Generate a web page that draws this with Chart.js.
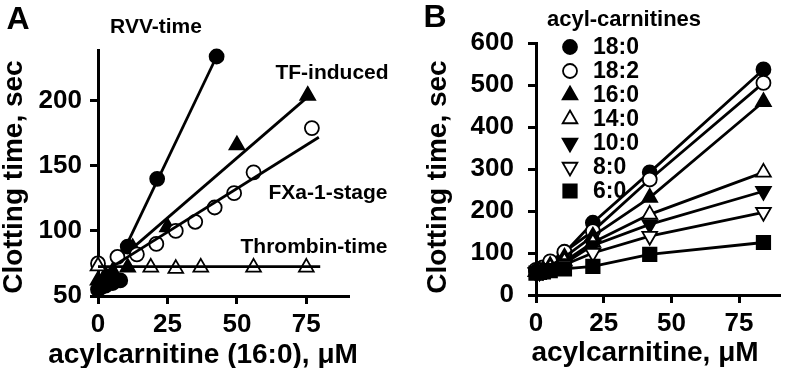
<!DOCTYPE html>
<html>
<head>
<meta charset="utf-8">
<script src="https://cdn.jsdelivr.net/npm/chart.js@4/dist/chart.umd.min.js"></script>
<style>
  html, body { margin: 0; padding: 0; background: #fff; }
  #wrap { position: relative; width: 791px; height: 368px; overflow: hidden; }
  canvas { position: absolute; top: 0; }
  #cA { left: 0; }
  #cB { left: 400px; }
</style>
</head>
<body>
<div id="wrap">
  <canvas id="cA" width="400" height="368"></canvas>
  <canvas id="cB" width="391" height="368"></canvas>
</div>
<script>
// ---------- Panel A data ----------
const rvvX = [0, 1.3, 2.7, 5.3, 8, 10.7, 21.3, 42.7];
const rvvY = [55, 57, 58, 60, 62, 88, 140, 234];
const rvvFitX = [10, 42.7];
const rvvFitY = [88, 234];

const tfX = [0, 2.7, 5.3, 10.7, 12.5, 25, 50, 75.5];
const tfY = [62, 66, 69, 72, 87, 103, 166, 204];
const tfFitX = [12, 75.5];
const tfFitY = [86, 203];

const fxaX = [0, 7, 14, 21, 28, 35, 42, 49, 56, 77];
const fxaY = [75, 80, 82, 90, 100, 107, 118, 129, 145, 179];
const fxaFitX = [4, 79.5];
const fxaFitY = [71, 172];

const thrX = [0, 19, 28, 37, 56, 75];
const thrY = [73, 72, 71, 72, 72, 72];
const thrFitX = [0, 80];
const thrFitY = [72.5, 72.5];

const xTicksA = [0, 25, 50, 75];
const yTicksA = [50, 100, 150, 200];

// ---------- Panel B data ----------
const concB = [0, 1.3, 2.6, 5.25, 10.5, 21, 42, 84];
const seriesNamesB = ['18:0', '18:2', '16:0', '14:0', '10:0', '8:0', '6:0'];
const c180 = [57, 58, 62, 78, 100, 172, 292, 537];
const c182 = [60, 62, 66, 80, 103, 152, 275, 505];
const c160 = [56, 58, 60, 70, 90, 140, 232, 460];
const c140 = [55, 57, 59, 65, 80, 125, 192, 292];
const c100 = [54, 56, 58, 63, 75, 118, 168, 247];
const c80  = [53, 55, 57, 61, 72, 100, 140, 197];
const c60  = [52, 54, 55, 58, 62, 68, 97, 125];
const xTicksB = [0, 25, 50, 75];
const yTicksB = [0, 100, 200, 300, 400, 500, 600];

// ---------- styles ----------
const FONT = "'Liberation Sans', Arial, Helvetica, sans-serif";
Chart.defaults.font.family = FONT;
Chart.defaults.font.weight = 'bold';
Chart.defaults.color = '#000';

const pts = (xs, ys) => xs.map((x, i) => ({ x: x, y: ys[i] }));

const markers = {
  fcircle: { pointStyle: 'circle', radius: 7, rotation: 0, fill: '#000' },
  ocircle: { pointStyle: 'circle', radius: 7, rotation: 0, fill: '#fff' },
  ftri:    { pointStyle: 'triangle', radius: 8.5, rotation: 0, fill: '#000' },
  otri:    { pointStyle: 'triangle', radius: 8.5, rotation: 0, fill: '#fff' },
  fdtri:   { pointStyle: 'triangle', radius: 8.5, rotation: 180, fill: '#000' },
  odtri:   { pointStyle: 'triangle', radius: 8.5, rotation: 180, fill: '#fff' },
  fsquare: { pointStyle: 'rect', radius: 9.5, rotation: 0, fill: '#000' }
};

function markerSet(label, data, m) {
  return {
    label: label, data: data, showLine: false, clip: false,
    pointStyle: m.pointStyle, pointRadius: m.radius, pointRotation: m.rotation,
    pointBackgroundColor: m.fill, pointBorderColor: '#000', pointBorderWidth: 1.8,
    pointHoverRadius: m.radius
  };
}
function lineSet(label, data, withPoints, m) {
  const d = {
    label: label, data: data, showLine: true, clip: false,
    borderColor: '#000', borderWidth: 2.8, fill: false, tension: 0,
    pointRadius: 0
  };
  if (withPoints) Object.assign(d, {
    pointStyle: m.pointStyle, pointRadius: m.radius, pointRotation: m.rotation,
    pointBackgroundColor: m.fill, pointBorderColor: '#000', pointBorderWidth: 1.8,
    pointHoverRadius: m.radius
  });
  return d;
}

function axisCommon(tickList, tickFontSize, pad, fitFn) {
  return {
    type: 'linear',
    afterBuildTicks: (s) => { s.ticks = tickList.map(v => ({ value: v })); },
    afterFit: fitFn,
    grid: { drawOnChartArea: false, drawTicks: true, tickLength: 8, tickWidth: 3, tickColor: '#000', color: '#000', lineWidth: 3 },
    border: { display: true, color: '#000', width: 3 },
    ticks: { color: '#000', font: { size: tickFontSize, weight: 'bold', family: FONT }, padding: pad, maxRotation: 0, autoSkip: false }
  };
}

function textPlugin(items) {
  return {
    id: 'texts',
    afterDraw(chart) {
      const ctx = chart.ctx;
      ctx.save();
      ctx.fillStyle = '#000';
      ctx.textBaseline = 'middle';
      items.forEach(t => {
        ctx.save();
        ctx.font = 'bold ' + t.size + 'px ' + FONT;
        ctx.textAlign = t.align || 'center';
        ctx.translate(t.x, t.y);
        if (t.rot) ctx.rotate(t.rot);
        ctx.fillText(t.text, 0, 0);
        ctx.restore();
      });
      ctx.restore();
    }
  };
}

// ---------- Chart A ----------
new Chart(document.getElementById('cA'), {
  type: 'scatter',
  data: {
    datasets: [
      lineSet('RVV-time fit', pts(rvvFitX, rvvFitY), false),
      lineSet('TF-induced fit', pts(tfFitX, tfFitY), false),
      lineSet('FXa-1-stage fit', pts(fxaFitX, fxaFitY), false),
      lineSet('Thrombin-time fit', pts(thrFitX, thrFitY), false),
      markerSet('Thrombin-time', pts(thrX, thrY), markers.otri),
      markerSet('FXa-1-stage', pts(fxaX, fxaY), markers.ocircle),
      markerSet('TF-induced', pts(tfX, tfY), markers.ftri),
      markerSet('RVV-time', pts(rvvX, rvvY), markers.fcircle)
    ]
  },
  options: {
    responsive: false, devicePixelRatio: 1, animation: false,
    layout: { padding: { top: 50, right: 52, left: 0, bottom: 0 } },
    plugins: { legend: { display: false }, tooltip: { enabled: false }, title: { display: false } },
    scales: {
      x: Object.assign(axisCommon(xTicksA, 26, 5, (s) => { s.height = 72; }), { min: 0, max: 90, position: 'bottom' }),
      y: Object.assign(axisCommon(yTicksA, 26, 8, (s) => { s.width = 98; }), { min: 50, max: 239, position: 'left' })
    }
  },
  plugins: [textPlugin([
    { text: 'A', x: 18, y: 20, size: 32 },
    { text: 'RVV-time', x: 156, y: 27, size: 21 },
    { text: 'TF-induced', x: 332, y: 73, size: 21 },
    { text: 'FXa-1-stage', x: 328, y: 193, size: 21 },
    { text: 'Thrombin-time', x: 314, y: 247, size: 21 },
    { text: 'Clotting time, sec', x: 14, y: 177, size: 28, rot: -Math.PI / 2 },
    { text: 'acylcarnitine (16:0), \u03BCM', x: 203, y: 355, size: 28 }
  ])]
});

// ---------- Chart B ----------
const markerKeysB = ['fcircle', 'ocircle', 'ftri', 'otri', 'fdtri', 'odtri', 'fsquare'];
const valuesB = [c180, c182, c160, c140, c100, c80, c60];

const legendB = {
  id: 'legendB',
  afterDraw(chart) {
    const ctx = chart.ctx;
    ctx.save();
    ctx.fillStyle = '#000';
    ctx.textBaseline = 'middle';
    ctx.textAlign = 'center';
    ctx.font = 'bold 22px ' + FONT;
    ctx.fillText('acyl-carnitines', 224, 20);
    seriesNamesB.forEach((name, i) => {
      const y = 47 + i * 24;
      const m = markers[markerKeysB[i]];
      ctx.save();
      ctx.fillStyle = m.fill;
      ctx.strokeStyle = '#000';
      ctx.lineWidth = 1.8;
      if (Chart.helpers && Chart.helpers.drawPoint) {
        Chart.helpers.drawPoint(ctx, { pointStyle: m.pointStyle, radius: m.radius, rotation: m.rotation, borderWidth: 1.8 }, 170, y);
      }
      ctx.restore();
      ctx.fillStyle = '#000';
      ctx.textAlign = 'left';
      ctx.font = 'bold 23px ' + FONT;
      ctx.fillText(name, 193, y + 1);
    });
    ctx.restore();
  }
};

new Chart(document.getElementById('cB'), {
  type: 'scatter',
  data: {
    datasets: seriesNamesB.map((n, i) => lineSet(n, pts(concB, valuesB[i]), true, markers[markerKeysB[i]])).reverse()
  },
  options: {
    responsive: false, devicePixelRatio: 1, animation: false,
    layout: { padding: { top: 43, right: 0, left: 0, bottom: 0 } },
    plugins: { legend: { display: false }, tooltip: { enabled: false }, title: { display: false } },
    scales: {
      x: Object.assign(axisCommon(xTicksB, 26, 5, (s) => { s.height = 73; }), { min: 0, max: 90, position: 'bottom' }),
      y: Object.assign(axisCommon(yTicksB, 26, 14, (s) => { s.width = 136; }), { min: 0, max: 600, position: 'left' })
    }
  },
  plugins: [legendB, textPlugin([
    { text: 'B', x: 35, y: 18, size: 32 },
    { text: 'Clotting time, sec', x: 38, y: 177, size: 28, rot: -Math.PI / 2 },
    { text: 'acylcarnitine, \u03BCM', x: 245, y: 353, size: 28 }
  ])]
});
</script>
</body>
</html>
